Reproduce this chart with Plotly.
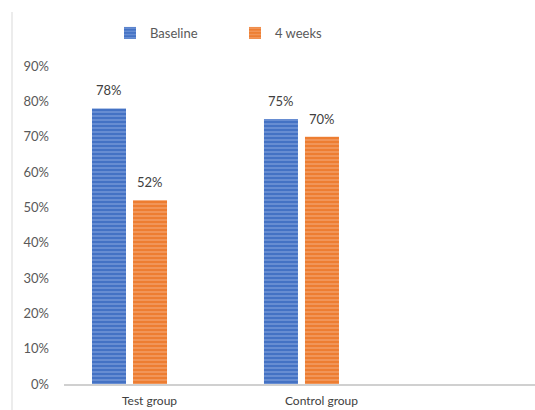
import plotly.graph_objects as go

# Share of participants per group, before and after the 4-week period
groups = ["Test group", "Control group"]
baseline = [0.78, 0.75]
four_weeks = [0.52, 0.70]
series_names = ["Baseline", "4 weeks"]
y_ticks = [0, 0.1, 0.2, 0.3, 0.4, 0.5, 0.6, 0.7, 0.8, 0.9]
y_tick_text = [f"{int(round(v * 100))}%" for v in y_ticks]

FONT = "Lato"
BLUE, BLUE_LIGHT = "#4472C4", "#A9C0EA"
ORANGE, ORANGE_LIGHT = "#ED7D31", "#F8C3A0"

fig = go.Figure()
for name, vals, base, light in [
    (series_names[0], baseline, BLUE, BLUE_LIGHT),
    (series_names[1], four_weeks, ORANGE, ORANGE_LIGHT),
]:
    fig.add_trace(go.Bar(
        name=name, x=groups, y=vals,
        marker=dict(
            color=base, line=dict(width=0),
            pattern=dict(shape="-", size=4, solidity=0.35,
                         fgcolor=light, fillmode="overlay"),
        ),
    ))

# value labels above each bar
annotations = []
for offset, vals in [(-0.5, baseline), (0.5, four_weeks)]:
    for g, v in zip(groups, vals):
        annotations.append(dict(
            x=g, y=v, xref="x", yref="y", text=f"{int(round(v * 100))}%",
            showarrow=False, yanchor="bottom", yshift=8,
            xshift=offset * 41,
            font=dict(family=FONT, size=13, color="#404040"),
        ))

fig.update_layout(
    width=535, height=410,
    margin=dict(l=0, r=0, t=0, b=0, autoexpand=False),
    paper_bgcolor="white", plot_bgcolor="white",
    barmode="group", bargap=0.523, bargroupgap=0.171,
    font=dict(family=FONT, size=13, color="#595959"),
    legend=dict(
        orientation="h", x=110 / 535, xanchor="left",
        y=1 - 33 / 410, yanchor="middle",
        entrywidth=80, entrywidthmode="pixels",
        font=dict(family=FONT, size=13, color="#595959"),
        bgcolor="rgba(0,0,0,0)", traceorder="normal",
    ),
    xaxis=dict(
        domain=[64 / 535, 1], range=[-0.381, 2.358],
        showline=True, linecolor="#D0D0D0", linewidth=1.5,
        showgrid=False, zeroline=False, ticks="",
        ticklabelshift=20, ticklabelstandoff=5, automargin=False,
        tickfont=dict(family=FONT, size=12, color="#404040"),
        fixedrange=True,
    ),
    yaxis=dict(
        domain=[26 / 410, 344 / 410], range=[0, 0.9],
        tickvals=y_ticks, ticktext=y_tick_text,
        showline=False, showgrid=False, zeroline=False, ticks="",
        ticklabelstandoff=14, automargin=False,
        tickfont=dict(family=FONT, size=13, color="#595959"),
        fixedrange=True,
    ),
    annotations=annotations,
    shapes=[dict(type="line", xref="paper", yref="paper",
                 x0=12 / 535, x1=12 / 535, y0=0, y1=1 - 12 / 410,
                 line=dict(color="#D9D9D9", width=1))],
)

fig.write_html("out.html")
